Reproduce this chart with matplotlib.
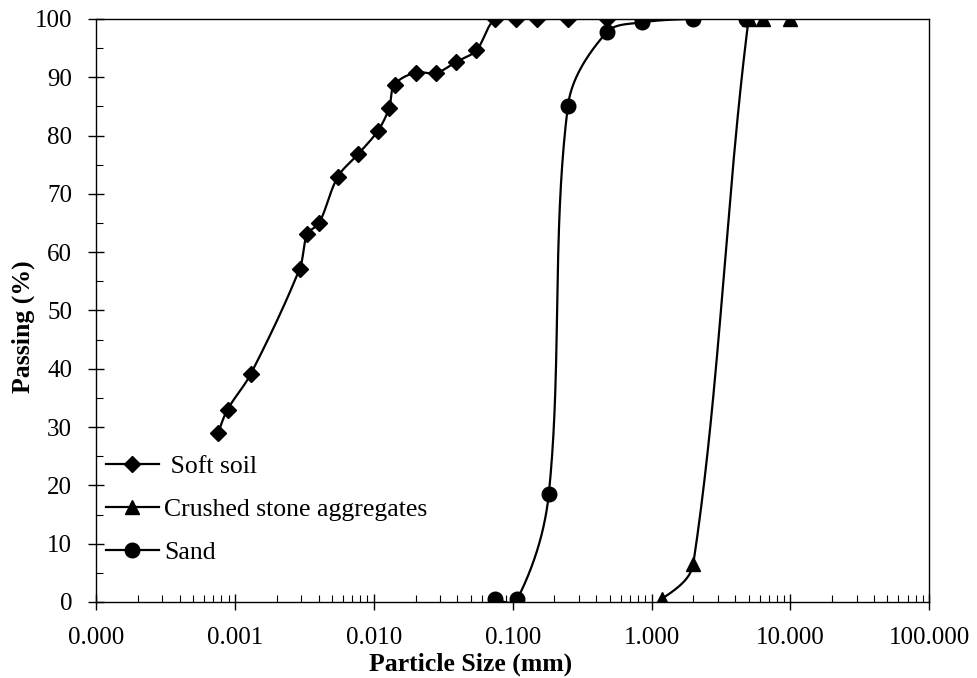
import numpy as np
import matplotlib

matplotlib.use("Agg")
import matplotlib.pyplot as plt
from matplotlib.lines import Line2D
from matplotlib.ticker import FixedLocator, LogLocator, FormatStrFormatter, MultipleLocator

plt.rcParams["font.family"] = ["Liberation Serif", "DejaVu Serif"]

# sieve / hydrometer results, size in mm, passing in %
soil_size = [0.00076, 0.000885, 0.0013, 0.00292, 0.00332, 0.00404, 0.0055, 0.0077,
             0.0107, 0.0129, 0.0141, 0.020, 0.0279, 0.039, 0.0546,
             0.075, 0.106, 0.15, 0.25, 0.475, 0.85]
soil_pass = [29.0, 33.0, 39.1, 57.1, 63.1, 65.0, 72.9, 76.8,
             80.8, 84.7, 88.7, 90.8, 90.7, 92.6, 94.6,
             100, 100, 100, 100, 100, 100]

stone_size = [1.18, 2.0, 5.0, 6.3, 10.0]
stone_pass = [0.5, 6.6, 100, 100, 100]

sand_size = [0.075, 0.108, 0.182, 0.25, 0.475, 0.85, 2.0, 4.75]
sand_pass = [0.5, 0.5, 18.5, 85.1, 97.7, 99.4, 100, 100]

XMIN, XMAX = 1e-4, 100.0
YMIN, YMAX = 0, 100

fig = plt.figure(figsize=(9.78, 6.78), dpi=100)
ax = fig.add_axes([0.0982, 0.1121, 0.852, 0.860])
ax_w = 0.852 * 978
ax_h = 0.860 * 678


def smooth(xs, ys, n=40):
    # bezier smoothing in screen space; handle length follows the segment length
    lx0, lx1 = np.log10(XMIN), np.log10(XMAX)
    u = (np.log10(xs) - lx0) / (lx1 - lx0) * ax_w
    v = (np.asarray(ys, float) - YMIN) / (YMAX - YMIN) * ax_h
    p = np.column_stack([u, v])

    def unit(d):
        return d / np.hypot(*d)

    out = []
    t = np.linspace(0, 1, n)[:, None]
    last = len(p) - 2
    for i in range(len(p) - 1):
        p1, p2 = p[i], p[i + 1]
        L = np.hypot(*(p2 - p1)) / 3
        c1 = p1 + unit(p2 - p[i - 1]) * L if i > 0 else None
        c2 = p2 - unit(p[i + 2] - p1) * L if i < last else None
        # free ends: put the handle halfway towards the inner one
        if c1 is None and c2 is None:
            c1, c2 = p1 + (p2 - p1) / 3, p2 - (p2 - p1) / 3
        elif c1 is None:
            c1 = p1 + (c2 - p1) / 2
        elif c2 is None:
            c2 = p2 + (c1 - p2) / 2
        seg = ((1 - t) ** 3) * p1 + 3 * ((1 - t) ** 2) * t * c1 + 3 * (1 - t) * t ** 2 * c2 + t ** 3 * p2
        out.append(seg if i == 0 else seg[1:])
    out = np.vstack(out)
    xx = 10 ** (out[:, 0] / ax_w * (lx1 - lx0) + lx0)
    yy = out[:, 1] / ax_h * (YMAX - YMIN) + YMIN
    return xx, yy


series = [
    (soil_size, soil_pass, "D", 7.8, " Soft soil"),
    (stone_size, stone_pass, "^", 10, "Crushed stone aggregates"),
    (sand_size, sand_pass, "o", 10.5, "Sand"),
]

handles = []
for xs, ys, mk, ms, lab in series:
    sx, sy = smooth(xs, ys)
    ax.plot(sx, sy, color="black", linewidth=1.6, solid_capstyle="round", zorder=3)
    ax.plot(xs, ys, linestyle="none", marker=mk, markersize=ms, color="black", zorder=4)
    handles.append(Line2D([], [], color="black", linewidth=1.6, marker=mk, markersize=ms, label=lab))

ax.set_xscale("log")
ax.set_xlim(XMIN, XMAX)
ax.set_ylim(YMIN, YMAX)

ax.xaxis.set_major_locator(FixedLocator([1e-4, 1e-3, 1e-2, 1e-1, 1, 10, 100]))
ax.xaxis.set_minor_locator(LogLocator(base=10, subs=np.arange(2, 10)))
ax.xaxis.set_major_formatter(FormatStrFormatter("%.3f"))
ax.xaxis.set_minor_formatter(plt.NullFormatter())
ax.yaxis.set_major_locator(MultipleLocator(10))
ax.yaxis.set_minor_locator(MultipleLocator(5))

ax.tick_params(which="major", direction="inout", length=11, width=1.0, labelsize=18)
ax.tick_params(axis="y", which="major", pad=11.8)
ax.tick_params(axis="x", which="major", pad=12.5)
ax.tick_params(which="minor", direction="in", length=5, width=0.8)
ax.tick_params(right=False, top=False, which="both")
for s in ax.spines.values():
    s.set_linewidth(1.0)

ax.set_xlabel("Particle Size (mm)", fontsize=18.5, fontweight="bold")
ax.set_ylabel("Passing (%)", fontsize=18.5, fontweight="bold")
ax.xaxis.set_label_coords(0.45, -0.086)
ax.yaxis.set_label_coords(-0.073, 0.473)

ax.legend(handles=handles, loc="lower left", bbox_to_anchor=(0.012, 0.065),
          frameon=False, fontsize=18.5, handlelength=2.05, handletextpad=0.2,
          labelspacing=0.78, borderpad=0, borderaxespad=0, numpoints=1)

plt.savefig("out.png", dpi=100)
